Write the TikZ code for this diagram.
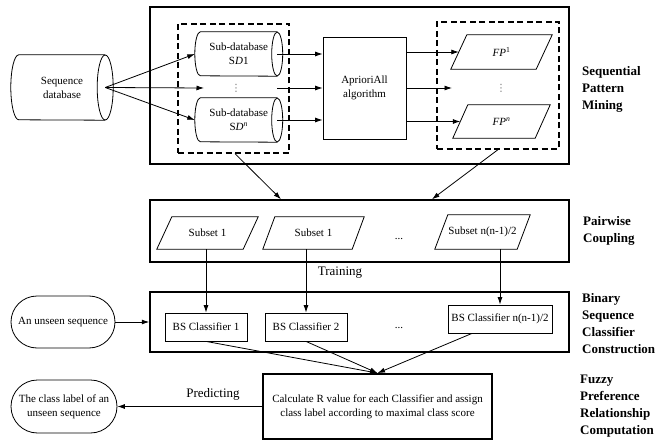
\documentclass[tikz,border=0pt]{standalone}
\usepackage{fontspec}
\setmainfont{Liberation Serif}
\newfontfamily\dejavu{DejaVu Sans}
\usetikzlibrary{arrows.meta,shapes.misc,calc}
\newcommand{\drawcyl}[3]{%
  \draw[line width=0.8pt] (#1.north east) -- (#1.north west)
    arc[start angle=90,end angle=270,x radius=#2,y radius=#3] -- (#1.south east);
  \draw[line width=0.8pt] (#1.east) ellipse[x radius=#2,y radius=#3];}
\newcommand{\drawpara}[2]{%
  \draw[line width=0.8pt] ([xshift=#2]#1.north west) -- (#1.north east)
    -- ([xshift=-#2]#1.south east) -- (#1.south west) -- cycle;}
\begin{document}
\begin{tikzpicture}[x=1pt,y=-1pt,
  txt/.style={font=\fontsize{11}{14}\selectfont, align=center, inner sep=0pt},
  bigbox/.style={draw, line width=1.5pt, inner sep=0pt},
  dashbox/.style={draw, line width=1.3pt, dash pattern=on 6pt off 3.5pt, inner sep=0pt},
  procbox/.style={draw, line width=0.8pt, txt},
  holder/.style={txt},
  arr/.style={line width=0.8pt, -{Latex[length=7.5pt,width=5pt]}},
  lab/.style={font=\fontsize{13}{17}\selectfont\bfseries, align=left, anchor=north west, inner sep=0pt},
  term/.style={draw, line width=0.8pt, rounded rectangle, txt, minimum height=52pt},
  dotsv/.style={font=\dejavu\fontsize{10}{10}\selectfont, text=black!55, inner sep=0pt},
  dotsh/.style={font=\fontsize{11}{11}\selectfont, inner sep=0pt},
  big/.style={font=\fontsize{13}{15}\selectfont, inner sep=0pt},
]
\useasboundingbox (0,0) rectangle (659,441);

% frames
\node[bigbox, minimum width=419pt, minimum height=157pt] (spm) at (359.5,85.5) {};
\node[dashbox, minimum width=111pt, minimum height=129pt] (dashL) at (233.5,88.5) {};
\node[dashbox, minimum width=122pt, minimum height=127pt] (dashR) at (498,85.5) {};
\node[bigbox, minimum width=419pt, minimum height=62pt] (pw) at (359.5,231) {};
\node[bigbox, minimum width=419pt, minimum height=60pt] (bsc) at (359.5,322) {};

% cylinders
\node[holder, minimum width=86pt, minimum height=65pt] (seqdb) at (62,87.5) {Sequence\\database};
\drawcyl{seqdb}{8pt}{32.5pt}
\node[holder, minimum width=76.5pt, minimum height=44pt] (sd1) at (238.75,54) {Sub-database\\S\textit{D}1};
\drawcyl{sd1}{5.5pt}{22pt}
\node[holder, minimum width=76.5pt, minimum height=44pt] (sdn) at (238.75,120) {Sub-database\\S\textit{D}\textsuperscript{\textit{n}}};
\drawcyl{sdn}{5.5pt}{22pt}
\node[dotsv] (vd1) at (236,88) {⋮};

% AprioriAll
\node[procbox, minimum width=83pt, minimum height=102pt] (apr) at (364.5,88) {AprioriAll\\algorithm};

% FP
\node[holder, minimum width=101pt, minimum height=34pt] (fp1) at (501.5,52) {\textit{FP}\textsuperscript{1}};
\drawpara{fp1}{16pt}
\node[holder, minimum width=97pt, minimum height=33pt] (fpn) at (501.5,121.5) {\textit{FP}\textsuperscript{\textit{n}}};
\drawpara{fpn}{15pt}
\node[dotsv] (vd2) at (501,88) {⋮};

% subsets
\node[holder, minimum width=101pt, minimum height=32pt] (s1) at (207.5,233) {Subset 1};
\drawpara{s1}{15pt}
\node[holder, minimum width=101pt, minimum height=32pt] (s2) at (313.5,233) {Subset 1};
\drawpara{s2}{12pt}
\node[holder, minimum width=95pt, minimum height=34pt] (sn) at (482.5,232) {Subset n(n-1)/2};
\drawpara{sn}{13pt}
\node[dotsh] (hd1) at (399,239) {...};

% classifiers
\node[procbox, minimum width=82pt, minimum height=28pt] (bs1) at (206,327) {BS Classifier 1};
\node[procbox, minimum width=82pt, minimum height=28pt] (bs2) at (306,327) {BS Classifier 2};
\node[procbox, minimum width=104pt, minimum height=28pt] (bsn) at (500,319) {BS Classifier n(n-1)/2};
\node[dotsh] (hd2) at (399,328) {...};

% terminals
\node[term, minimum width=104pt] (unseen) at (63,322) {An unseen sequence};
\node[term, minimum width=106pt, minimum height=53pt] (cls) at (64,406.5) {The class label of an\\unseen sequence};

% calc
\node[draw, line width=1.8pt, txt, minimum width=229pt, minimum height=65pt] (calc) at (377.5,406.5)
  {Calculate R value for each Classifier and assign\\class label according to maximal class score};

% labels
\node[big] (train) at (340,273) {Training};
\node[big] (pred) at (213,394) {Predicting};
\node[lab] (l1) at (582,66) {Sequential\\Pattern\\Mining};
\node[lab] (l2) at (583,216) {Pairwise\\Coupling};
\node[lab] (l3) at (582,293) {Binary\\Sequence\\Classifier\\Construction};
\node[lab] (l4) at (580,375) {Fuzzy\\Preference\\Relationship\\Computation};

% arrows
\coordinate (m1) at (204,88);
\coordinate (m2) at (277,88);
\coordinate (m3) at (452,88);
\draw[arr] (seqdb.east) -- ([xshift=-5.5pt]sd1.west);
\draw[arr] (seqdb.east) -- (m1);
\draw[arr] (seqdb.east) -- ([xshift=-5.5pt]sdn.west);
\draw[arr] (sd1.east) -- (sd1.east -| apr.west);
\draw[arr] (m2) -- (m2 -| apr.west);
\draw[arr] (sdn.east) -- (sdn.east -| apr.west);
\draw[arr] (apr.east |- fp1.west) -- ([xshift=8pt]fp1.west);
\draw[arr] (apr.east |- m3) -- (m3);
\draw[arr] (apr.east |- fpn.west) -- ([xshift=7.5pt]fpn.west);
\draw[arr] ([xshift=1.5pt]dashL.south) -- ([xshift=-78.5pt]pw.north);
\draw[arr] (dashR.south) -- ([xshift=72.5pt]pw.north);
\draw[arr] (bs1.north |- s1.south) -- (bs1.north);
\draw[arr] (bs2.north |- s2.south) -- (bs2.north);
\draw[arr] (bsn.north |- sn.south) -- (bsn.north);
\draw[arr] (unseen.east) -- (unseen.east -| bsc.west);
\draw[arr] (bs1.south) -- (calc.north);
\draw[arr] (bs2.south) -- (calc.north);
\draw[arr] ([xshift=-28pt]bsn.south) -- (calc.north);
\draw[arr] (calc.west |- cls.east) -- (cls.east);
\end{tikzpicture}
\end{document}
